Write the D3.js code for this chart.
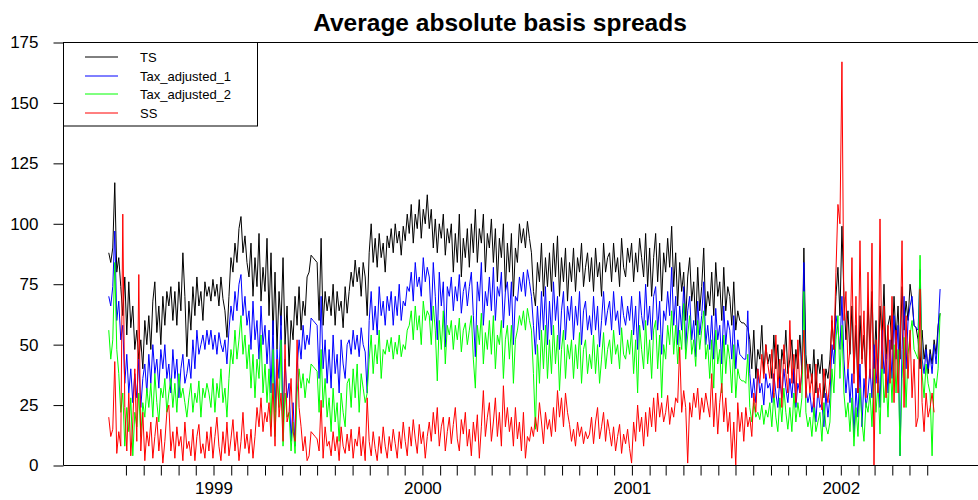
<!DOCTYPE html>
<html lang="en">
<head>
<meta charset="utf-8">
<title>Average absolute basis spreads</title>
<script src="https://d3js.org/d3.v7.min.js"></script>
<style>
  body { margin: 0; background: #fff; }
  svg { display: block; font-family: "Liberation Sans", Arial, sans-serif; }
</style>
</head>
<body>
<svg width="978" height="500"></svg>
<script>
// sampling: one value every 3.5 days from early July 1998
const startDate = Date.UTC(1998, 6, 2);
const stepHours = 84;

const seriesNames = ["TS", "Tax_adjusted_1", "Tax_adjusted_2", "SS"];
const seriesColors = ["#000000", "#0000ff", "#00ff00", "#ff0000"];
const yTicks = [0, 25, 50, 75, 100, 125, 150, 175];

const ts = [
  88, 84, 90, 117, 80, 86, 74, 62, 78, 54,
  76, 57, 66, 48, 56, 44, 52, 40, 60, 50,
  62, 48, 68, 76, 55, 66, 50, 70, 58, 72,
  66, 74, 60, 72, 58, 76, 64, 88, 70, 45,
  68, 56, 74, 62, 78, 66, 72, 60, 76, 70,
  74, 68, 77, 70, 75, 66, 78, 69, 64, 53,
  70, 86, 80, 92, 84, 98, 103, 88, 95, 84,
  78, 92, 70, 86, 74, 96, 68, 82, 72, 94,
  62, 88, 54, 80, 48, 72, 58, 86, 50, 66,
  41, 60, 52, 70, 58, 74, 56, 68, 62, 78,
  80, 87, 86, 85, 84, 60, 94, 58, 72, 64,
  70, 62, 75, 58, 72, 64, 68, 57, 74, 63,
  72, 80, 74, 85, 76, 82, 70, 84, 78, 62,
  88, 100, 84, 94, 82, 96, 86, 92, 80, 95,
  90, 98, 88, 100, 92, 97, 87, 99, 93, 104,
  96, 108, 92, 104, 98, 110, 94, 106, 100, 112,
  98, 106, 90, 102, 88, 100, 94, 104, 87, 98,
  92, 100, 80, 96, 84, 104, 78, 94, 86, 98,
  82, 100, 88, 106, 84, 98, 92, 104, 80, 96,
  90, 102, 84, 98, 76, 94, 86, 100, 72, 92,
  80, 96, 70, 90, 84, 100, 92, 98, 90, 101,
  94, 88, 72, 66, 84, 76, 92, 70, 86, 74,
  88, 72, 92, 78, 95, 70, 86, 76, 90, 68,
  84, 76, 90, 72, 86, 80, 92, 74, 82, 88,
  76, 86, 72, 90, 78, 84, 70, 92, 80, 86,
  88, 76, 92, 80, 86, 74, 94, 82, 78, 90,
  84, 92, 76, 88, 80, 94, 86, 78, 96, 74,
  90, 70, 86, 96, 76, 92, 68, 88, 80, 94,
  82, 99, 74, 88, 66, 84, 72, 80, 60, 78,
  86, 68, 76, 58, 82, 64, 74, 90, 62, 72,
  66, 80, 62, 84, 70, 76, 60, 82, 64, 74,
  70, 58, 76, 56, 64, 60, 59, 59, 58, 57,
  52, 40, 56, 36, 48, 44, 58, 38, 50, 42,
  46, 36, 54, 40, 50, 32, 48, 42, 56, 38,
  44, 52, 34, 48, 40, 54, 38, 90, 46, 36,
  42, 34, 48, 30, 44, 38, 46, 28, 40, 36,
  44, 60, 48, 70, 82, 62, 99, 70, 52, 64,
  46, 66, 38, 58, 30, 62, 44, 54, 36, 68,
  48, 72, 40, 60, 34, 66, 52, 75, 44, 58,
  62, 48, 70, 52, 66, 44, 74, 56, 68, 60,
  75, 68, 58, 57, 52, 40, 56, 44, 50, 38,
  48, 42, 52, 46, 58, 63
];

const tax1 = [
  70, 66, 74, 97, 60, 68, 52, 58, 34, 46,
  30, 40, 26, 38, 28, 44, 24, 36, 42, 30,
  46, 34, 50, 38, 44, 32, 48, 40, 50, 36,
  42, 30, 48, 36, 44, 28, 40, 46, 34, 38,
  44, 36, 52, 40, 56, 46, 50, 54, 48, 56,
  50, 56, 48, 54, 46, 55, 50, 47, 52, 42,
  56, 66, 60, 72, 64, 75, 79, 62, 70, 58,
  64, 48, 68, 52, 60, 44, 66, 50, 58, 42,
  56, 30, 60, 22, 48, 36, 62, 18, 44, 28,
  34, 10, 26, 8, 40, 52, 44, 58, 48, 54,
  50, 61, 60, 59, 58, 36, 70, 40, 52, 34,
  48, 32, 54, 38, 46, 30, 52, 42, 36, 50,
  52, 46, 56, 48, 54, 45, 57, 50, 47, 30,
  60, 72, 56, 66, 54, 74, 62, 68, 58, 70,
  64, 72, 58, 70, 62, 75, 60, 68, 66, 74,
  72, 80, 68, 84, 74, 78, 70, 86, 76, 82,
  78, 60, 84, 70, 52, 80, 66, 76, 49, 74,
  70, 78, 64, 74, 68, 79, 63, 72, 76, 66,
  74, 80, 62, 45, 76, 68, 84, 58, 72, 66,
  78, 64, 82, 60, 74, 70, 80, 57, 72, 76,
  62, 76, 50, 70, 68, 78, 72, 80, 70, 81,
  76, 70, 58, 46, 66, 52, 72, 56, 74, 50,
  68, 54, 76, 60, 70, 48, 64, 72, 52, 66,
  60, 70, 52, 66, 58, 72, 50, 64, 68, 56,
  62, 54, 70, 56, 66, 49, 60, 72, 58, 64,
  68, 56, 72, 60, 64, 54, 70, 62, 58, 66,
  60, 70, 54, 66, 48, 72, 62, 56, 75, 58,
  66, 52, 70, 74, 56, 68, 46, 64, 60, 72,
  62, 82, 58, 70, 50, 66, 56, 74, 48, 64,
  70, 52, 60, 45, 68, 54, 62, 76, 50, 58,
  48, 62, 44, 65, 52, 58, 42, 66, 50, 60,
  56, 44, 62, 40, 52, 46, 45, 44, 44, 64,
  38, 28, 36, 26, 40, 30, 34, 25, 38, 32,
  34, 26, 38, 30, 24, 36, 28, 40, 32, 26,
  36, 28, 40, 24, 34, 30, 38, 84, 32, 26,
  30, 22, 28, 18, 32, 24, 26, 16, 30, 20,
  28, 50, 42, 62, 56, 48, 70, 44, 30, 40,
  26, 38, 12, 32, 20, 42, 16, 36, 24, 30,
  40, 28, 50, 34, 44, 24, 56, 38, 46, 30,
  52, 36, 62, 44, 58, 4, 48, 70, 40, 60,
  66, 70, 58, 57, 56, 81, 44, 38, 48, 40,
  46, 38, 50, 42, 56, 73
];

const tax2 = [
  56, 44, 52, 84, 48, 38, 22, 30, 8, 24,
  14, 28, 4, 22, 16, 30, 12, 26, 20, 32,
  24, 34, 20, 38, 26, 18, 32, 28, 36, 22,
  30, 36, 24, 34, 22, 38, 28, 32, 26, 20,
  28, 34, 22, 30, 26, 35, 20, 32, 28, 34,
  30, 24, 36, 22, 34, 28, 40, 26, 32, 20,
  36, 48, 42, 56, 44, 52, 62, 46, 54, 40,
  50, 32, 46, 28, 44, 36, 54, 30, 42, 26,
  40, 16, 48, 12, 36, 24, 52, 8, 30, 20,
  22, 6, 18, 5, 30, 40, 32, 38, 28, 36,
  34, 42, 41, 40, 39, 22, 48, 24, 36, 20,
  28, 14, 32, 18, 26, 10, 30, 22, 16, 34,
  36, 24, 40, 28, 42, 22, 38, 32, 26, 30,
  44, 54, 38, 50, 42, 56, 36, 48, 46, 52,
  47, 53, 44, 51, 46, 54, 45, 50, 48, 56,
  58, 64, 52, 66, 56, 62, 50, 68, 60, 64,
  62, 50, 66, 56, 35, 60, 48, 64, 42, 58,
  54, 60, 48, 58, 52, 61, 47, 56, 59, 50,
  56, 62, 44, 32, 58, 50, 63, 42, 55, 48,
  60, 46, 62, 40, 54, 50, 60, 36, 52, 58,
  44, 58, 34, 52, 56, 62, 58, 64, 56, 65,
  60, 56, 38, 15, 50, 34, 56, 40, 58, 36,
  52, 38, 58, 42, 54, 31, 48, 56, 36, 50,
  44, 52, 36, 50, 40, 55, 34, 48, 52, 38,
  46, 40, 54, 38, 50, 34, 44, 55, 40, 48,
  52, 42, 56, 46, 50, 40, 57, 46, 44, 52,
  46, 56, 38, 52, 30, 58, 48, 40, 60, 42,
  52, 36, 56, 60, 40, 54, 28, 50, 44, 58,
  50, 64, 46, 58, 42, 56, 48, 67, 44, 54,
  62, 46, 52, 41, 60, 48, 56, 64, 44, 50,
  36, 52, 32, 56, 42, 48, 30, 54, 38, 50,
  44, 30, 50, 28, 40, 36, 35, 35, 34, 46,
  24, 18, 26, 20, 22, 19, 25, 17, 23, 20,
  26, 16, 30, 20, 14, 28, 18, 32, 22, 15,
  24, 14, 30, 18, 26, 20, 28, 72, 22, 16,
  20, 12, 24, 14, 18, 22, 10, 26, 16, 13,
  18, 40, 30, 52, 62, 36, 58, 30, 20, 26,
  14, 28, 8, 24, 12, 32, 18, 10, 26, 22,
  30, 16, 40, 22, 34, 13, 46, 26, 36, 20,
  44, 26, 50, 30, 48, 4, 36, 53, 24, 46,
  54, 60, 48, 46, 44, 87, 38, 28, 42, 34,
  30, 4, 36, 32, 40, 63
];

const ss = [
  20, 12, 15, 43, 5, 14, 8, 104, 24, 6,
  30, 4, 18, 40, 10, 79, 6, 22, 2, 14,
  8, 18, 3, 12, 20, 6, 15, 1, 10, 22,
  25, 6, 14, 3, 16, 8, 12, 2, 18, 7,
  10, 4, 15, 2, 12, 17, 5, 9, 3, 14,
  6, 16, 3, 12, 20, 8, 2, 14, 5, 18,
  4, 11, 19, 6, 14, 2, 10, 22, 7, 13,
  5, 15, 3, 12, 24, 16, 28, 14, 22, 18,
  26, 12, 34, 8, 44, 20, 30, 10, 50, 18,
  22, 36, 14, 10, 52, 24, 16, 6, 12, 2,
  4, 14, 13, 12, 11, 6, 27, 3, 16, 8,
  10, 4, 14, 6, 12, 2, 16, 8, 5, 13,
  6, 15, 3, 11, 8, 16, 4, 12, 2, 28,
  10, 4, 14, 7, 2, 12, 5, 16, 8, 3,
  12, 6, 15, 9, 3, 14, 7, 18, 10, 4,
  16, 8, 19, 11, 5, 17, 9, 14, 3, 12,
  18, 10, 22, 13, 24, 8, 16, 20, 6, 14,
  20, 9, 17, 24, 11, 6, 19, 13, 22, 8,
  15, 4, 18, 10, 21, 3, 16, 31, 12, 20,
  26, 10, 18, 28, 12, 22, 8, 33, 16, 24,
  14, 20, 8, 24, 11, 18, 6, 22, 3, 12,
  10, 16, 12, 20, 14, 26, 18, 9, 22, 15,
  19, 12, 24, 14, 31, 20, 28, 16, 30, 22,
  17, 10, 15, 8, 18, 12, 16, 9, 14, 11,
  13, 20, 9, 18, 24, 11, 16, 22, 10, 19,
  14, 8, 16, 6, 12, 17, 5, 13, 9, 15,
  7, 1, 18, 10, 25, 14, 20, 8, 22, 12,
  24, 16, 28, 14, 30, 20, 26, 18, 22, 29,
  17, 24, 20, 28, 26, 49, 22, 31, 24, 1,
  26, 20, 30, 24, 32, 19, 28, 22, 30, 25,
  20, 38, 16, 30, 13, 26, 34, 18, 28, 14,
  22, 3, 18, 0, 26, 14, 22, 10, 24, 16,
  20, 12, 30, 22, 40, 34, 46, 36, 50, 42,
  36, 48, 28, 54, 32, 44, 24, 50, 38, 30,
  60, 34, 46, 26, 52, 30, 40, 56, 28, 42,
  30, 38, 24, 42, 28, 34, 23, 40, 32, 26,
  36, 62, 48, 80, 108, 100, 167, 60, 72, 40,
  48, 86, 34, 70, 30, 93, 42, 64, 28, 80,
  36, 92, 0, 52, 30, 102, 40, 66, 28, 58,
  34, 70, 26, 56, 30, 48, 93, 24, 62, 36,
  56, 28, 44, 16, 20, 73, 26, 14, 30, 20,
  24, 30, 22, null, null, null
];

const svg = d3.select("svg");
const plotLeft = 63.5, plotRight = 978, plotTop = 42.5, plotBottom = 465.5;

const dates = ts.map((_, i) => new Date(startDate + i * stepHours * 3600e3));

const x = d3.scaleUtc()
  .domain([new Date(Date.UTC(1999, 0, 1)), new Date(Date.UTC(2002, 0, 1))])
  .range([213.5, 840.8]);
const y = d3.scaleLinear().domain([0, 175]).range([plotBottom, plotTop]);

// title
svg.append("text")
  .attr("x", 500).attr("y", 31)
  .attr("text-anchor", "middle")
  .attr("font-size", 24.5).attr("font-weight", "bold")
  .text("Average absolute basis spreads");

// data lines
const line = d3.line()
  .defined(d => d[1] != null)
  .x(d => x(d[0]))
  .y(d => y(d[1]));

[ts, tax1, tax2, ss].forEach((vals, k) => {
  svg.append("path")
    .datum(vals.map((v, i) => [dates[i], v]))
    .attr("fill", "none")
    .attr("stroke", seriesColors[k])
    .attr("stroke-width", 1)
    .attr("stroke-linejoin", "round")
    .attr("d", line);
});

// axes
const yAxis = svg.append("g")
  .attr("transform", `translate(${plotLeft},0)`)
  .call(d3.axisLeft(y).tickValues(yTicks).tickSize(10).tickPadding(15));
yAxis.select(".domain").remove();
yAxis.selectAll("text").attr("font-size", 17).attr("font-family", null);

const months = d3.utcMonth.range(new Date(Date.UTC(1998, 7, 1)), new Date(Date.UTC(2002, 6, 1)));
const xAxis = svg.append("g")
  .attr("transform", `translate(0,${plotBottom})`)
  .call(d3.axisBottom(x).tickValues(months).tickSize(10).tickPadding(6)
    .tickFormat(d => d.getUTCMonth() === 0 ? d.getUTCFullYear() : ""));
xAxis.select(".domain").remove();
xAxis.selectAll("text").attr("font-size", 17).attr("font-family", null);

svg.append("line").attr("x1", plotLeft).attr("x2", plotLeft).attr("y1", plotTop).attr("y2", plotBottom).attr("stroke", "#000");
svg.append("line").attr("x1", plotLeft).attr("x2", plotRight).attr("y1", plotTop).attr("y2", plotTop).attr("stroke", "#000");
svg.append("line").attr("x1", plotLeft).attr("x2", plotRight).attr("y1", plotBottom).attr("y2", plotBottom).attr("stroke", "#000");

// legend
const legend = svg.append("g");
legend.append("rect")
  .attr("x", plotLeft).attr("y", plotTop).attr("width", 194).attr("height", 83.5)
  .attr("fill", "#fff").attr("stroke", "#000");
seriesNames.forEach((name, i) => {
  const ly = Math.round(57 + i * 18.5);
  legend.append("line")
    .attr("x1", 85).attr("x2", 118).attr("y1", ly).attr("y2", ly)
    .attr("stroke", seriesColors[i]);
  legend.append("text")
    .attr("x", 140).attr("y", ly).attr("dy", "0.35em")
    .attr("font-size", 13)
    .text(name);
});
</script>
</body>
</html>
